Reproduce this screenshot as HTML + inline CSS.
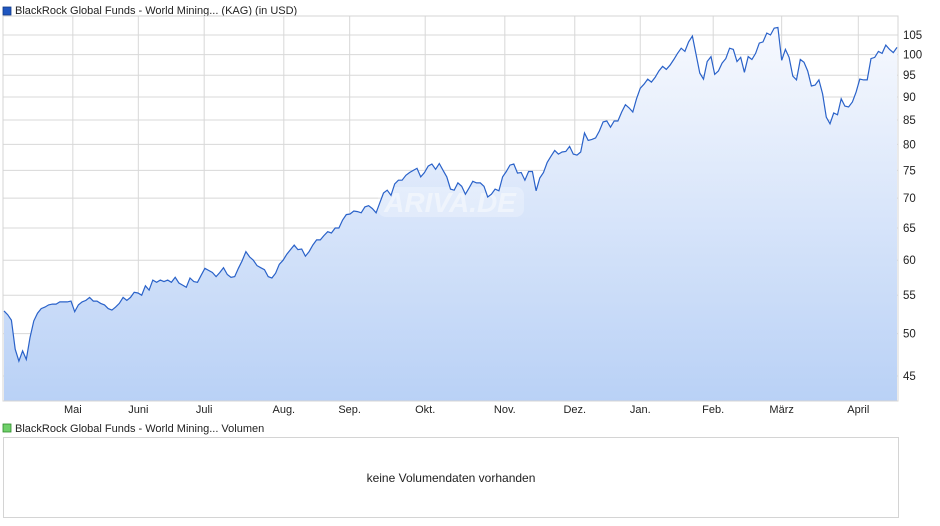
<!DOCTYPE html>
<html><head><meta charset="utf-8"><style>
html,body{margin:0;padding:0;background:#fff;width:940px;height:526px;overflow:hidden;font-family:"Liberation Sans",sans-serif;}
svg text{font-family:"Liberation Sans",sans-serif;}
</style></head><body>
<svg width="940" height="526" xmlns="http://www.w3.org/2000/svg">
<defs><linearGradient id="fillg" x1="0" y1="0" x2="0" y2="1">
<stop offset="0" stop-color="#f7f9fe"/><stop offset="1" stop-color="#b9d1f6"/></linearGradient></defs>
<rect x="3" y="7" width="8" height="8" fill="#1f56c0" stroke="#133a85" stroke-width="0.8"/>
<text x="15" y="14" font-size="11" fill="#222">BlackRock Global Funds - World Mining... (KAG) (in USD)</text>
<g id="grid"></g>
<path id="area" fill="url(#fillg)"/>
<rect x="378" y="187" width="146" height="30" rx="8" fill="#ffffff" opacity="0.25"/>
<text x="450" y="212" font-size="28" font-style="italic" font-weight="bold" fill="#ffffff" opacity="0.45" text-anchor="middle">ARIVA.DE</text>
<path id="line" fill="none" stroke="#2a62c9" stroke-width="1.2"/>
<rect x="3" y="16" width="895" height="385" fill="none" stroke="#d4d4d4"/>
<g id="yt"></g>
<g id="xt"></g>
<rect x="3" y="424" width="8" height="8" fill="#6fd06a" stroke="#2f8a2b" stroke-width="0.8"/>
<text x="15" y="432" font-size="11" fill="#222">BlackRock Global Funds - World Mining... Volumen</text>
<rect x="3.5" y="437.5" width="895" height="80" fill="#fff" stroke="#d4d4d4"/>
<text x="451" y="482" font-size="12" fill="#222" text-anchor="middle">keine Volumendaten vorhanden</text>
</svg>
<script>
const yTicks=[45,50,55,60,65,70,75,80,85,90,95,100,105];
const monthLabels=["Mai","Juni","Juli","Aug.","Sep.","Okt.","Nov.","Dez.","Jan.","Feb.","März","April"];
const monthIndex=[18.5,36.1,53.8,75.2,92.9,113.2,134.6,153.4,171.0,190.6,209.0,229.6];
const prices=[52.9,52.4,51.7,48.1,46.7,47.9,46.9,49.5,51.6,52.6,53.2,53.4,53.7,53.8,53.8,54.1,54.1,54.1,54.2,52.8,53.7,54.1,54.3,54.7,54.2,54.2,53.9,53.7,53.2,53.0,53.4,53.9,54.7,54.3,54.7,55.4,55.3,55.0,56.3,55.7,57.1,56.8,57.1,56.9,57.1,56.8,57.5,56.7,56.4,56.1,57.4,56.9,56.8,57.8,58.8,58.5,58.2,57.6,58.2,58.9,57.9,57.5,57.6,58.8,59.9,61.3,60.5,60,59.2,58.9,58.6,57.6,57.4,58.1,59.4,60,60.9,61.6,62.3,61.6,61.7,60.6,61.3,62.3,63.1,63.1,63.8,64.4,64.2,65,65,66.3,67.2,67.3,67.8,67.7,67.5,68.5,68.7,68.2,67.5,69.2,70.9,71.4,70.5,72.5,73.2,73.2,74.1,74.6,75,75.4,73.8,74.6,75.8,76.2,75.2,76.3,75,73.8,71.6,71.4,72.7,72.1,70.7,71.8,73.0,72.7,72.7,72.1,70.2,70.7,71.6,71.3,73.8,74.8,76.0,76.2,74.5,74.6,73.2,74.8,74.8,71.3,73.6,74.6,76.5,77.7,78.8,78.1,78.5,78.6,79.6,78.1,77.9,78.5,82.3,80.8,81.0,81.3,82.7,84.6,84.8,83.5,84.8,84.8,86.7,88.3,87.6,86.7,89.6,92.0,92.9,94.1,93.4,94.5,96.0,97.1,96.4,97.4,98.8,100.3,101.6,100.8,103.2,104.7,100,95.5,94.1,98.3,99.5,95.2,96.0,97.9,99.0,101.6,101.3,98.3,99.3,95.7,99.5,98.8,100.3,102.9,103.2,105.5,105,106.8,107,98.6,101.3,99.3,94.8,93.9,98.8,98.1,96.0,92.5,92.7,93.9,90.7,85.6,84.2,86.5,86.1,89.6,88.0,87.8,88.9,91.1,94.1,93.9,93.9,99.0,99.3,100.8,100.3,102.4,101.3,100.5,101.8];
const X0=4,X1=897,Y0=16,Y1=401;
const x=i=>X0+(X1-X0)*i/(prices.length-1);
const y=v=>376-402.5*Math.log(v/45);
const NS="http://www.w3.org/2000/svg";
const grid=document.getElementById('grid'),yt=document.getElementById('yt'),xt=document.getElementById('xt');
yTicks.forEach(t=>{
 const l=document.createElementNS(NS,'line');
 
 
 l.setAttribute('x1',3);l.setAttribute('x2',898);l.setAttribute('y1',y(t));l.setAttribute('y2',y(t));
 l.setAttribute('stroke','#d8d8d8');grid.appendChild(l);
 const tx=document.createElementNS(NS,'text');
 
 
 tx.setAttribute('x',903);tx.setAttribute('y',y(t)+4);tx.setAttribute('font-size','11.5');tx.setAttribute('fill','#222');
 tx.textContent=t;yt.appendChild(tx);
});
monthLabels.forEach((m,k)=>{
 const px=x(monthIndex[k]);
 const l=document.createElementNS(NS,'line');
 
 
 l.setAttribute('x1',px);l.setAttribute('x2',px);l.setAttribute('y1',Y0);l.setAttribute('y2',Y1);
 l.setAttribute('stroke','#d8d8d8');grid.appendChild(l);
 const tx=document.createElementNS(NS,'text');
 
 
 tx.setAttribute('x',px);tx.setAttribute('y',413);tx.setAttribute('font-size','11');tx.setAttribute('fill','#222');tx.setAttribute('text-anchor','middle');
 tx.textContent=m;xt.appendChild(tx);
});
let d='';prices.forEach((v,i)=>{d+=(i?'L':'M')+x(i).toFixed(1)+','+y(v).toFixed(1);});
document.getElementById('line').setAttribute('d',d);
document.getElementById('area').setAttribute('d',d+'L'+X1+','+Y1+'L'+X0+','+Y1+'Z');
</script>
</body></html>
